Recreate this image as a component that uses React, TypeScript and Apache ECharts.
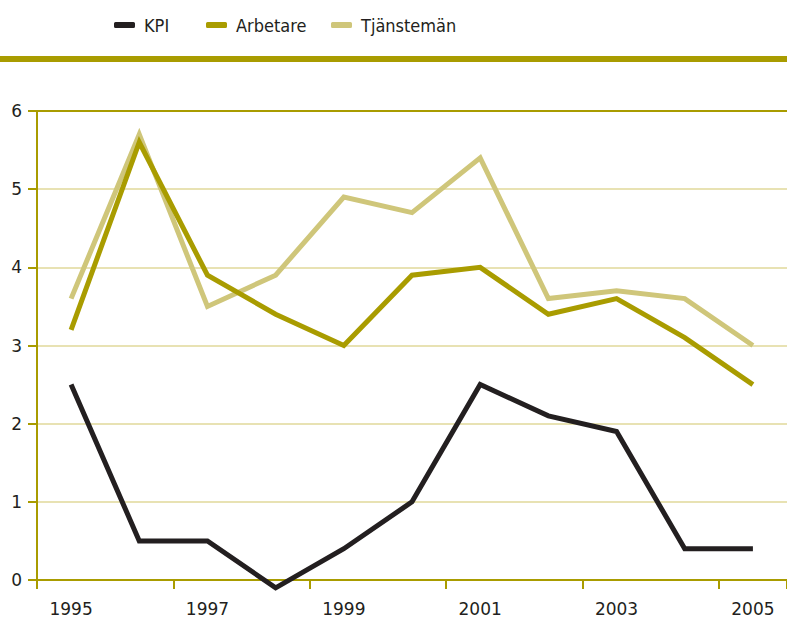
import React, { useEffect, useRef } from "react";
import * as echarts from "echarts";

const years = ["1995", "1996", "1997", "1998", "1999", "2000", "2001", "2002", "2003", "2004", "2005"];
const kpi = [2.5, 0.5, 0.5, -0.1, 0.4, 1.0, 2.5, 2.1, 1.9, 0.4, 0.4];
const arbetare = [3.2, 5.6, 3.9, 3.4, 3.0, 3.9, 4.0, 3.4, 3.6, 3.1, 2.5];
const tjansteman = [3.6, 5.7, 3.5, 3.9, 4.9, 4.7, 5.4, 3.6, 3.7, 3.6, 3.0];
const seriesNames = ["KPI", "Arbetare", "Tjänstemän"];
const legendLefts = [109, 201, 326];

const OLIVE = "#a99c00";
const PALE = "#cfc67a";
const BLACK = "#231f20";
const GRIDPALE = "#e8e2b3";

export default function App() {
  const ref = useRef<HTMLDivElement>(null);
  useEffect(() => {
    const chart = echarts.init(ref.current!, null, { renderer: "svg" });
    const mk = (name: string, data: number[], color: string) => ({
      name,
      type: "line",
      data,
      symbol: "none",
      clip: false,
      lineStyle: { color, width: 5, join: "miter" },
      itemStyle: { color },
    });
    chart.setOption({
      animation: false,
      backgroundColor: "#ffffff",
      legend: seriesNames.map((n, i) => ({
        top: 11,
        left: legendLefts[i],
        itemWidth: 21,
        itemHeight: 6,
        icon: "roundRect",
        textStyle: {
          fontFamily: "Liberation Sans Narrow, DejaVu Sans Condensed, Roboto Condensed, sans-serif",
          fontSize: 18,
          color: "#231f20",
          padding: [0, 0, 0, 4],
        },
        data: [n],
      })),
      graphic: [
        { type: "rect", left: 0, top: 56, shape: { width: 787, height: 6 }, style: { fill: OLIVE } },
      ],
      grid: { left: 37, top: 111, bottom: 42, width: 753 },
      xAxis: {
        type: "category",
        data: years,
        boundaryGap: true,
        axisLine: { lineStyle: { color: OLIVE, width: 2 } },
        axisTick: { show: true, length: 9, lineStyle: { color: OLIVE, width: 2 } },
        axisLabel: { interval: 1, margin: 20, fontSize: 17, color: "#231f20", fontFamily: "DejaVu Sans, sans-serif" },
      },
      yAxis: {
        type: "value",
        min: 0,
        max: 6,
        interval: 1,
        axisLine: { show: true, lineStyle: { color: OLIVE, width: 2 } },
        axisTick: { show: true, length: 9, lineStyle: { color: OLIVE, width: 2 } },
        axisLabel: { margin: 15, fontSize: 17, color: "#231f20", fontFamily: "DejaVu Sans, sans-serif" },
        splitLine: {
          show: true,
          lineStyle: { color: [GRIDPALE, GRIDPALE, GRIDPALE, GRIDPALE, GRIDPALE, GRIDPALE, OLIVE], width: 2 },
        },
      },
      series: [
        mk("Tjänstemän", tjansteman, PALE),
        mk("Arbetare", arbetare, OLIVE),
        mk("KPI", kpi, BLACK),
      ],
    });
    return () => chart.dispose();
  }, []);
  return (
    <div
      ref={ref}
      style={{ position: "absolute", left: 0, top: 0, width: 787, height: 622 }}
    />
  );
}
